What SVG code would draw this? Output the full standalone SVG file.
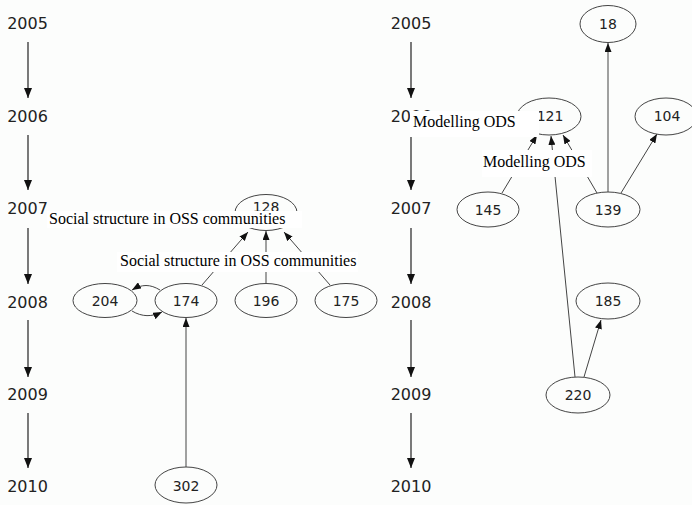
<svg xmlns="http://www.w3.org/2000/svg" width="692" height="505" viewBox="0 0 692 505">
<defs>
<style>
.yr{font-family:"DejaVu Sans",sans-serif;font-size:16px;fill:#222;text-anchor:middle}
.nd ellipse{fill:none;stroke:#444;stroke-width:1}
.nd text{font-family:"DejaVu Sans",sans-serif;font-size:14px;fill:#222;text-anchor:middle}
.ya{stroke:#333;stroke-width:1.3;fill:none;marker-end:url(#ah)}
.ed{stroke:#444;stroke-width:1;fill:none;marker-end:url(#ae)}
.lb rect{fill:#fff;stroke:none}
.lb text{font-family:"Liberation Serif","Times New Roman",serif;font-size:16px;fill:#000}
</style>
<marker id="ah" markerUnits="userSpaceOnUse" markerWidth="10" markerHeight="8" refX="10" refY="4" orient="auto"><path d="M0,0 L10,4 L0,8 z" fill="#111"/></marker>
<marker id="ae" markerUnits="userSpaceOnUse" markerWidth="9" markerHeight="7" refX="9" refY="3.5" orient="auto"><path d="M0,0 L9,3.5 L0,7 z" fill="#111"/></marker>
</defs>
<rect width="692" height="505" fill="#fcfdfc"/>
<g id="connectors">
<path class="ya" d="M28,42 L28,98"/>
<path class="ya" d="M28,135 L28,190"/>
<path class="ya" d="M28,228 L28,284"/>
<path class="ya" d="M28,320 L28,377"/>
<path class="ya" d="M28,413 L28,468"/>
<path class="ya" d="M411,42 L411,98"/>
<path class="ya" d="M411,135 L411,190"/>
<path class="ya" d="M411,228 L411,284"/>
<path class="ya" d="M411,320 L411,377"/>
<path class="ya" d="M411,413 L411,468"/>
<path class="ed" d="M160,290 C150,284 142,284 132,290"/>
<path class="ed" d="M132,311 C142,317 152,317 162,312"/>
<path class="ed" d="M202,285 L248,232"/>
<path class="ed" d="M266,283 L266,231"/>
<path class="ed" d="M330,285 L284,232"/>
<path class="ed" d="M186,467 L186,318"/>
<path class="ed" d="M608,192 L608,43"/>
<path class="ed" d="M621,193 L657,134"/>
<path class="ed" d="M597,193 L563,135"/>
<path class="ed" d="M502,193 L537,135"/>
<path class="ed" d="M575,377 L551,136"/>
<path class="ed" d="M584,377 L601,320"/>
</g>
<g id="y2005a"><text class="yr" x="27.5" y="28.5">2005</text></g>
<g id="y2006a"><text class="yr" x="27.5" y="122">2006</text></g>
<g id="y2007a"><text class="yr" x="27.5" y="214">2007</text></g>
<g id="y2008a"><text class="yr" x="27.5" y="307.5">2008</text></g>
<g id="y2009a"><text class="yr" x="27.5" y="399.5">2009</text></g>
<g id="y2010a"><text class="yr" x="27.5" y="492">2010</text></g>
<g id="y2005b"><text class="yr" x="411" y="28.5">2005</text></g>
<g id="y2006b"><text class="yr" x="411" y="122">2006</text></g>
<g id="y2007b"><text class="yr" x="411" y="214">2007</text></g>
<g id="y2008b"><text class="yr" x="411" y="307.5">2008</text></g>
<g id="y2009b"><text class="yr" x="411" y="399.5">2009</text></g>
<g id="y2010b"><text class="yr" x="411" y="492">2010</text></g>
<g id="n128" class="nd"><ellipse cx="266" cy="212.5" rx="31" ry="18"/><text x="266" y="212">128</text></g>
<g id="n204" class="nd"><ellipse cx="105" cy="300.5" rx="32" ry="17"/><text x="105" y="306">204</text></g>
<g id="n174" class="nd"><ellipse cx="186" cy="300.5" rx="31" ry="17"/><text x="186" y="306">174</text></g>
<g id="n196" class="nd"><ellipse cx="266" cy="300.5" rx="31" ry="17"/><text x="266" y="306">196</text></g>
<g id="n175" class="nd"><ellipse cx="346" cy="300.5" rx="31" ry="17"/><text x="346" y="306">175</text></g>
<g id="n302" class="nd"><ellipse cx="186" cy="485" rx="31" ry="18"/><text x="186" y="490.5">302</text></g>
<g id="n18" class="nd"><ellipse cx="608" cy="24" rx="28" ry="18.5"/><text x="608" y="28.5">18</text></g>
<g id="n121" class="nd"><ellipse cx="549" cy="116.5" rx="32" ry="18.5"/><text x="550" y="121">121</text></g>
<g id="n104" class="nd"><ellipse cx="666" cy="116.5" rx="31" ry="18.5"/><text x="667" y="121">104</text></g>
<g id="n145" class="nd"><ellipse cx="488" cy="209.5" rx="31" ry="17.5"/><text x="488" y="214.5">145</text></g>
<g id="n139" class="nd"><ellipse cx="608" cy="209.5" rx="32" ry="17.5"/><text x="608" y="214.5">139</text></g>
<g id="n185" class="nd"><ellipse cx="608" cy="301" rx="32" ry="18"/><text x="608" y="306">185</text></g>
<g id="n220" class="nd"><ellipse cx="578" cy="395" rx="32" ry="18"/><text x="578" y="400">220</text></g>
<g id="labels" class="lb">
<rect x="47" y="211" width="255" height="17"/><text x="49" y="224">Social structure in OSS communities</text>
<rect x="117" y="252" width="241" height="20"/><text x="120" y="266">Social structure in OSS communities</text>
<rect x="410" y="111" width="129" height="26"/><text x="413" y="127">Modelling ODS</text>
<rect x="482" y="150" width="110" height="27"/><text x="483" y="167">Modelling ODS</text>
</g>
</svg>
